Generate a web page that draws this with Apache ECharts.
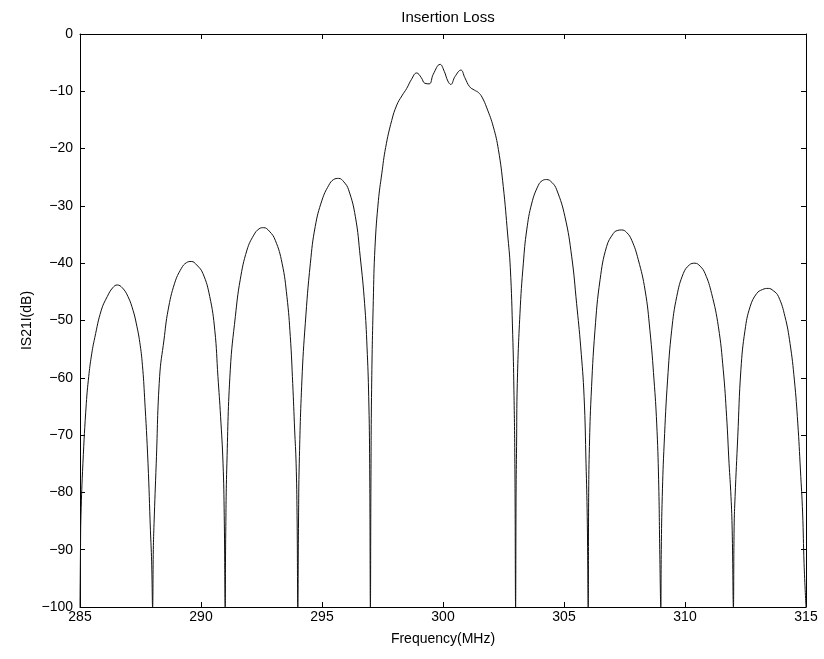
<!DOCTYPE html>
<html>
<head>
<meta charset="utf-8">
<script src="https://cdn.jsdelivr.net/npm/echarts@6/dist/echarts.min.js"></script>
<style>
html,body{margin:0;padding:0;background:#fff;}
#chart{width:824px;height:659px;}
</style>
</head>
<body>
<div id="chart"></div>
<script>
// Frequency (MHz)
const freq = [
285.00,285.02,285.04,285.12,285.26,285.36,285.47,285.61,285.88,286.13,286.35,286.54,286.75,286.98,287.19,287.33,287.47,287.58,287.67,287.81,287.91,287.96,
288.00,288.03,288.06,288.15,288.29,288.47,288.64,288.91,289.19,289.40,289.60,289.82,290.08,290.36,290.57,290.70,290.81,290.91,290.96,
291.00,291.02,291.07,291.21,291.42,291.62,291.90,292.18,292.40,292.59,292.82,293.07,293.35,293.55,293.69,293.79,293.87,293.93,293.97,
294.00,294.03,294.06,294.17,294.31,294.52,294.72,295.00,295.28,295.48,295.69,295.90,296.10,296.38,296.58,296.76,296.86,296.93,296.97,
297.00,297.02,297.05,297.12,297.19,297.33,297.47,297.63,297.88,298.09,298.30,298.50,298.70,298.91,299.10,299.25,299.43,299.60,299.88,300.05,300.20,300.32,300.50,300.74,300.90,301.10,301.30,301.46,301.61,301.81,302.08,302.29,302.49,302.67,302.78,302.88,302.93,302.97,
303.00,303.02,303.04,303.07,303.18,303.32,303.46,303.67,303.94,304.10,304.28,304.50,304.70,305.04,305.32,305.52,305.69,305.83,305.91,305.96,
306.00,306.02,306.05,306.12,306.28,306.49,306.76,307.04,307.20,307.38,307.58,307.80,308.07,308.35,308.55,308.72,308.83,308.91,308.96,
309.00,309.02,309.06,309.14,309.28,309.45,309.66,309.93,310.18,310.41,310.62,310.83,311.10,311.38,311.58,311.72,311.82,311.90,311.95,
312.00,312.03,312.07,312.18,312.31,312.48,312.69,312.96,313.20,313.44,313.65,313.86,314.13,314.34,314.52,314.66,314.77,314.86,314.92,315.00
];
// |S21| (dB)
const s21 = [
-100,-90,-84,-75,-64.5,-59.8,-56.2,-53.0,-48.2,-45.8,-44.3,-43.8,-44.3,-45.8,-48.2,-50.6,-53.8,-57.8,-63.5,-74.9,-86.6,-92,
-100,-90,-85.4,-74.9,-59.8,-53.4,-48.2,-43.5,-40.9,-39.9,-39.7,-40.3,-41.8,-45.8,-51.7,-59.8,-66.8,-74.9,-84,
-100,-88,-74.9,-58.6,-49.3,-42.9,-37.7,-35.1,-34.0,-33.8,-34.4,-36.0,-40.0,-45.8,-52.8,-61.0,-69.1,-74.9,-84,
-100,-85,-74.9,-60.4,-50.5,-40.0,-33.6,-29.0,-26.4,-25.4,-25.2,-25.8,-27.2,-31.9,-38.9,-47.0,-54.6,-63.3,-75,
-100,-80,-62,-46.5,-37.2,-29.1,-24.4,-19.8,-15.1,-12.4,-10.8,-9.5,-7.9,-6.8,-7.6,-8.6,-8.7,-7.0,-5.3,-6.5,-8.2,-8.8,-7.4,-6.3,-7.6,-9.2,-9.8,-10.2,-11.0,-12.9,-16.2,-20.2,-26.6,-34.9,-40.7,-52.4,-62,-75,
-100,-80,-72,-61.0,-48.8,-40.0,-34.2,-29.5,-26.4,-25.6,-25.4,-25.9,-27.2,-31.9,-38.9,-47.0,-54.6,-63.3,-74.9,-84.2,
-100,-80,-72,-63.3,-51.7,-42.9,-37.1,-34.8,-34.3,-34.2,-34.6,-36.0,-39.4,-44.7,-51.7,-60.4,-67.9,-77.8,-91,
-100,-90,-80.7,-71.4,-60.4,-51.7,-45.8,-41.8,-40.3,-40.0,-40.5,-41.8,-45.3,-51.1,-58.6,-66.8,-74.9,-80.7,-86.6,
-100,-86,-80.7,-70.3,-58.6,-51.7,-47.6,-45.3,-44.6,-44.4,-44.8,-45.8,-49.3,-54.0,-60.4,-67.9,-76.1,-83.6,-92.4,-100
];
const xTicks = [285, 290, 295, 300, 305, 310, 315];
const yTicks = [0, -10, -20, -30, -40, -50, -60, -70, -80, -90, -100];

const FONT = 'Liberation Sans, Arial, sans-serif';
const chart = echarts.init(document.getElementById('chart'), null, {renderer: 'canvas'});
const points = freq.map((f, i) => [f, s21[i]]);

const axisCommon = {
  axisLine: {show: true, onZero: false, lineStyle: {color: '#000', width: 1}},
  axisTick: {show: true, inside: true, length: 5, lineStyle: {color: '#000', width: 1}},
  splitLine: {show: false}
};

chart.setOption({
  animation: false,
  backgroundColor: '#fff',
  title: {
    text: 'Insertion Loss', left: 443, top: 5, textAlign: 'center',
    textStyle: {fontFamily: FONT, fontSize: 15, fontWeight: 'normal', color: '#000'}
  },
  grid: {left: 80, right: 18, top: 34, bottom: 52, containLabel: false},
  xAxis: [
    Object.assign({
      type: 'value', position: 'bottom', min: xTicks[0], max: xTicks[xTicks.length - 1], interval: 5,
      name: 'Frequency(MHz)', nameLocation: 'middle', nameGap: 25, nameMoveOverlap: false,
      nameTextStyle: {fontFamily: FONT, fontSize: 14, color: '#000'},
      axisLabel: {fontFamily: FONT, fontSize: 14, color: '#000', margin: 3}
    }, axisCommon),
    Object.assign({
      type: 'value', position: 'top', min: xTicks[0], max: xTicks[xTicks.length - 1], interval: 5,
      axisLabel: {show: false}
    }, axisCommon)
  ],
  yAxis: [
    Object.assign({
      type: 'value', position: 'left', min: yTicks[yTicks.length - 1], max: yTicks[0], interval: 10,
      name: 'IS21I(dB)', nameLocation: 'middle', nameGap: 46, nameRotate: 90, nameMoveOverlap: false,
      nameTextStyle: {fontFamily: FONT, fontSize: 14, color: '#000'},
      axisLabel: {fontFamily: FONT, fontSize: 14, color: '#000', margin: 7,
        formatter: v => String(v).replace('-', '\u2212')}
    }, axisCommon),
    Object.assign({
      type: 'value', position: 'right', min: yTicks[yTicks.length - 1], max: yTicks[0], interval: 10,
      axisLabel: {show: false}
    }, axisCommon)
  ],
  series: [{
    type: 'line',
    data: points,
    xAxisIndex: 0, yAxisIndex: 0,
    showSymbol: false,
    smooth: 0.45,
    lineStyle: {color: '#111', width: 1},
    clip: true
  }]
});
</script>
</body>
</html>
